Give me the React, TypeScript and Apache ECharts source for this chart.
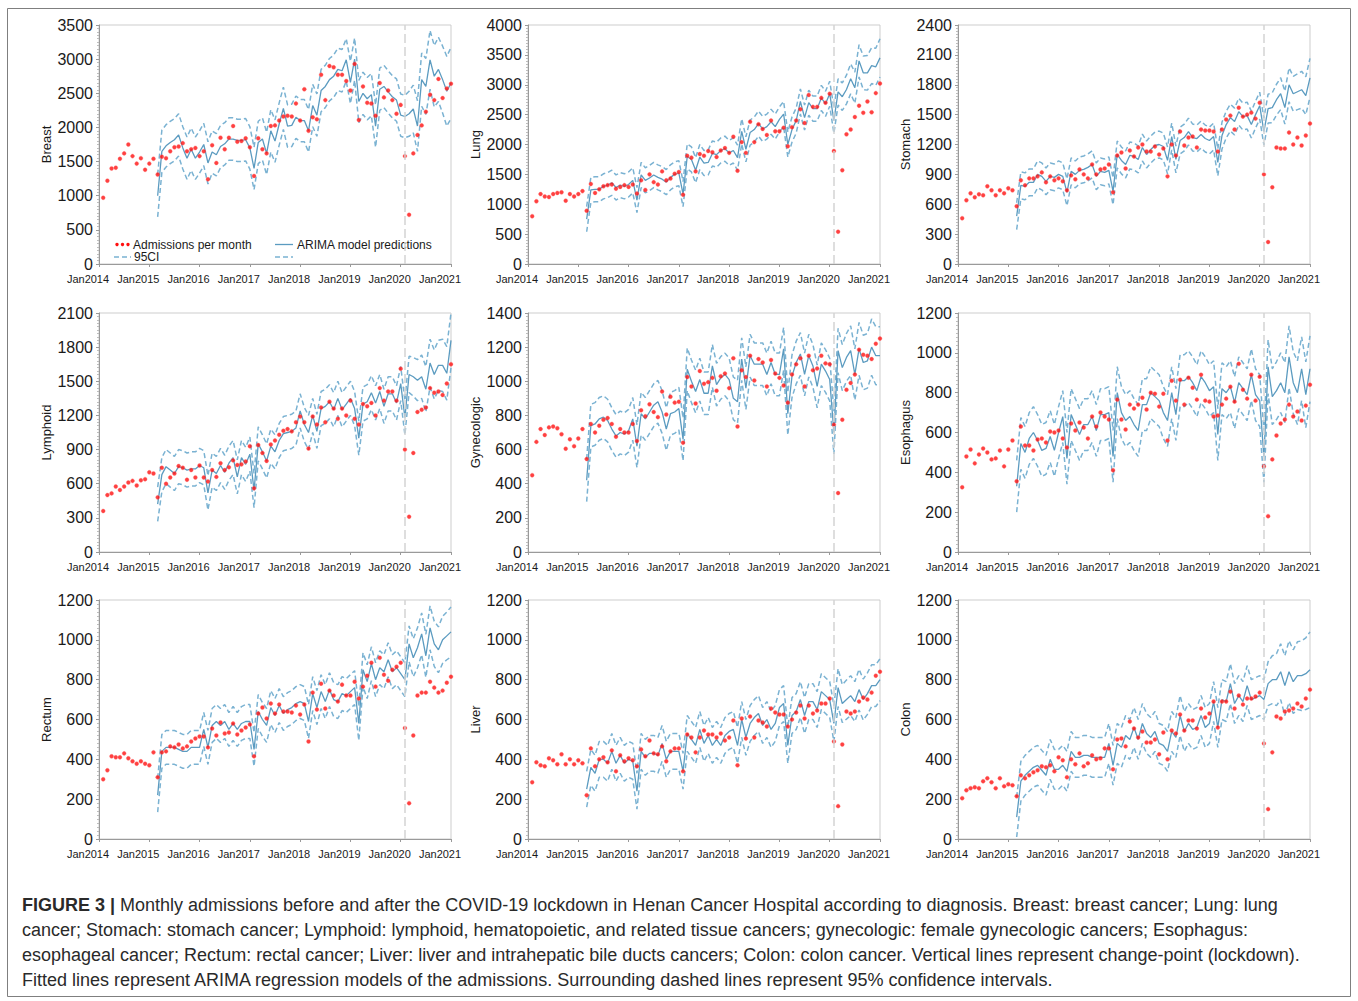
import React, { useEffect, useRef } from 'react';
import * as echarts from 'echarts';

// Months are counted from Jan2014 (=0). Admissions: Feb2014 (1) .. Jan2021 (84).
// Model predictions: Mar2015 (14) .. Jan2021 (84). Lockdown change-point: Feb2020 (73).
const ADM_START = 1;
const PRED_START = 14;
const LOCKDOWN = 73;
const xTickYears = [2014, 2015, 2016, 2017, 2018, 2019, 2020, 2021];

const breastAdm = [970,1220,1400,1410,1540,1620,1750,1580,1470,1550,1380,1470,1540,1310,1570,1550,1650,1710,1720,1770,1650,1680,1700,1580,1650,1240,1740,1480,1850,1680,1850,2020,1790,1800,1840,1710,1290,1840,1680,1620,2020,2030,2100,2160,2170,2160,2350,2100,2560,1950,2150,2120,2770,2400,2900,2880,2770,2770,2680,2540,2930,2110,2600,2360,2350,2170,2650,2440,2540,2400,2200,2330,1580,720,1620,1890,2030,2230,2480,2400,2710,2430,2570,2640];
const breastPred = [1000,1650,1730,1780,1820,1890,1700,1550,1680,1550,1640,1750,1480,1640,1600,1720,1760,1830,1830,1810,1810,1820,1700,1400,1780,1830,1620,1950,1800,2050,2280,2020,2030,2150,2100,2100,1950,2320,2180,2540,2600,2700,2750,2850,2830,2990,2660,3000,2380,2500,2420,2480,2020,2560,2600,2520,2450,2400,2180,2160,2200,2270,2020,2700,2600,2990,2750,2850,2700,2530,2650];
const breastCiForecast = [330,350,370,390,410,430,450,470,490,510,520];

const lungAdm = [800,1050,1170,1130,1120,1170,1190,1200,1060,1170,1130,1170,1220,890,1340,1190,1250,1300,1320,1330,1260,1290,1320,1290,1330,1180,1400,1240,1500,1370,1330,1550,1400,1430,1510,1540,1160,1810,1780,1550,1840,1810,1890,1870,1790,1900,1940,1860,2130,1560,2040,1860,2380,2040,2340,2260,2160,2400,2220,2220,2280,1970,2290,2400,2590,2360,2830,2630,2630,2780,2700,2850,1890,540,1570,2170,2250,2460,2650,2530,2720,2540,2860,3020];
const lungPred = [750,1240,1250,1250,1300,1320,1360,1280,1320,1300,1330,1400,1070,1490,1400,1440,1490,1450,1420,1370,1450,1500,1520,1170,1800,1750,1570,1790,1690,1700,1850,1830,1900,1930,1860,1900,1780,2220,1920,2200,2250,2350,2260,2300,2380,2300,2420,2510,2000,2250,2400,2720,2450,2700,2600,2600,2780,2680,2850,2400,2880,2800,2920,3100,2950,3400,3200,3200,3320,3300,3450];
const lungCiForecast = [220,230,240,250,260,270,280,290,300,310,320];

const stomachAdm = [460,640,710,670,700,690,780,740,690,740,710,760,740,580,840,790,860,860,880,920,820,880,840,860,830,740,890,850,950,900,860,1000,900,950,960,1000,720,1090,1120,960,1140,1080,1170,1200,1130,1130,1180,1100,1160,880,1200,1090,1330,1190,1270,1280,1170,1350,1340,1340,1330,1130,1350,1450,1490,1350,1570,1480,1500,1520,1460,1620,900,220,770,1170,1160,1160,1320,1200,1270,1190,1290,1410];
const stomachPred = [480,790,780,820,820,900,880,830,880,870,900,880,720,930,900,940,950,970,1000,880,930,920,940,730,1100,1040,1000,1090,1080,1050,1170,1100,1150,1190,1200,1180,1040,1280,1050,1240,1270,1330,1270,1260,1300,1260,1240,1280,1020,1290,1400,1470,1430,1530,1480,1490,1400,1500,1590,1330,1560,1570,1650,1710,1570,1800,1710,1730,1750,1690,1870];
const stomachCiForecast = [145,150,155,160,165,170,175,180,185,190,195];

const lymphoidAdm = [360,500,515,575,545,575,610,625,585,630,640,700,690,480,740,600,655,690,755,740,635,720,655,760,655,620,720,660,780,720,745,805,765,770,795,930,560,940,870,800,945,980,1030,1065,1080,1060,1140,1190,1140,910,1190,1120,1270,1140,1320,1260,1170,1260,1200,1330,1170,1120,1300,1280,1310,1200,1440,1330,1410,1410,1330,1610,900,310,870,1230,1250,1270,1440,1400,1410,1380,1480,1650];
const lymphoidPred = [420,680,750,720,690,750,740,720,730,730,760,740,520,720,690,760,700,780,830,660,830,770,860,540,950,880,800,930,880,980,1040,1050,1060,1090,1240,1120,1050,1200,1060,1260,1280,1320,1250,1350,1250,1300,1350,1260,1000,1300,1320,1400,1310,1410,1280,1390,1390,1310,1480,1180,1560,1540,1510,1540,1430,1660,1560,1640,1640,1570,1860];
const lymphoidCiForecast = [160,170,180,190,200,210,215,220,230,235,240];

const gynecologicAdm = [450,645,720,685,730,735,725,690,605,660,620,665,720,545,750,700,740,775,785,750,675,720,700,700,750,650,830,795,865,820,790,940,805,910,875,880,640,1025,970,870,1060,985,995,1020,945,1030,1045,960,1135,735,1065,1025,1150,1005,1130,1110,970,1125,1045,1020,975,875,1040,1100,1135,970,1150,1065,1075,1150,1105,1100,745,345,775,950,990,1040,1185,1155,1150,1130,1220,1250];
const gynecologicPred = [420,740,750,780,790,770,720,680,700,690,710,780,620,810,780,820,860,880,820,720,810,820,840,660,1070,1000,940,1010,930,930,1090,980,1020,1040,1010,900,880,1130,960,1150,1100,1100,1100,1040,1110,1040,1040,1190,810,1030,1110,1160,1040,1150,1090,970,1100,1060,1010,700,1180,1080,1140,1180,1040,1190,1110,1120,1200,1150,1150];
const gynecologicCiForecast = [130,135,140,145,150,155,160,160,165,170,170];

const esophagusAdm = [325,480,515,445,490,520,500,465,470,510,430,515,560,355,630,535,535,510,565,570,550,605,600,610,570,525,645,610,650,625,570,680,630,700,680,665,410,765,665,615,740,720,740,775,715,800,795,730,795,560,860,760,865,740,875,825,765,890,760,755,680,685,740,770,830,755,945,815,770,890,760,880,430,180,465,585,645,665,740,680,705,660,735,840];
const esophagusPred = [330,545,500,570,600,560,510,520,580,510,600,680,470,690,640,590,640,640,680,610,690,690,700,480,800,700,660,680,640,610,740,740,800,780,760,700,660,800,690,860,860,880,850,810,880,850,810,830,590,820,800,830,750,850,820,790,890,790,760,480,930,780,810,850,800,980,850,800,920,790,920];
const esophagusCiForecast = [135,140,145,150,150,155,155,160,160,165,165];

const rectumAdm = [300,345,415,410,410,430,405,390,378,390,378,370,435,310,435,440,465,460,475,455,465,490,505,515,515,460,555,520,585,530,535,580,525,545,560,575,415,630,660,605,680,630,675,640,640,635,670,625,675,490,735,650,780,655,745,720,690,775,720,720,790,705,765,820,885,765,910,825,795,850,865,885,557,180,520,720,735,735,790,760,735,745,785,815];
const rectumPred = [220,440,460,460,460,450,440,440,460,460,460,550,460,570,590,570,590,550,580,550,580,590,590,450,640,600,570,660,620,670,630,650,660,680,690,680,590,730,660,740,690,750,700,690,730,720,740,760,580,850,790,880,800,860,840,900,840,860,830,800,980,910,960,1030,920,1060,980,950,1000,1020,1040];
const rectumCiForecast = [90,95,100,105,108,110,113,115,118,120,125];

const liverAdm = [285,385,370,365,405,395,375,425,375,400,375,395,380,220,455,365,400,410,385,445,340,420,390,405,395,365,450,415,495,430,425,465,390,440,455,455,340,525,510,435,510,545,525,525,510,530,495,510,595,370,605,505,615,510,595,585,565,655,635,625,625,565,600,635,670,605,670,630,645,680,680,705,490,165,475,640,630,640,690,710,700,735,820,840];
const liverPred = [250,360,330,400,400,380,440,380,420,380,400,390,240,440,410,430,430,420,480,400,440,440,440,340,530,500,470,550,480,520,470,500,470,520,540,550,470,600,510,580,610,630,570,600,550,580,660,680,470,620,640,700,620,690,690,650,740,720,700,580,760,680,700,720,690,750,700,730,770,770,800];
const liverCiForecast = [95,95,98,100,100,102,103,104,105,105,105];

const colonAdm = [205,245,255,260,255,290,305,285,255,305,265,275,270,215,320,305,320,335,345,365,360,370,340,410,395,310,400,375,430,365,380,420,400,405,455,455,350,500,505,465,590,555,510,540,485,485,500,425,535,400,545,530,625,545,595,595,555,655,610,630,690,560,690,690,740,655,720,675,705,705,715,735,480,150,435,615,605,640,645,655,680,665,705,750];
const colonPred = [110,290,320,340,360,370,345,320,400,350,350,370,340,440,410,410,420,420,410,410,410,410,480,370,480,460,520,500,560,500,580,530,510,540,480,470,440,540,510,620,540,580,550,560,620,560,580,690,560,700,690,780,680,720,690,770,700,710,720,700,780,800,800,840,770,840,790,820,820,830,850];
const colonCiForecast = [110,120,130,140,150,155,160,170,175,180,190];

const panelNames = ['Breast', 'Lung', 'Stomach', 'Lymphoid', 'Gynecologic', 'Esophagus', 'Rectum', 'Liver', 'Colon'];
const panelAdm = [breastAdm, lungAdm, stomachAdm, lymphoidAdm, gynecologicAdm, esophagusAdm, rectumAdm, liverAdm, colonAdm];
const panelPred = [breastPred, lungPred, stomachPred, lymphoidPred, gynecologicPred, esophagusPred, rectumPred, liverPred, colonPred];
const panelCiFit = [310, 210, 135, 150, 125, 130, 85, 90, 100];
const panelCiForecast = [breastCiForecast, lungCiForecast, stomachCiForecast, lymphoidCiForecast, gynecologicCiForecast, esophagusCiForecast, rectumCiForecast, liverCiForecast, colonCiForecast];
const panelYMax = [3500, 4000, 2400, 2100, 1400, 1200, 1200, 1200, 1200];
const panelYStep = [500, 500, 300, 300, 200, 200, 200, 200, 200];

const captionLines = [
  'Monthly admissions before and after the COVID-19 lockdown in Henan Cancer Hospital according to diagnosis. Breast: breast cancer; Lung: lung',
  'cancer; Stomach: stomach cancer; Lymphoid: lymphoid, hematopoietic, and related tissue cancers; gynecologic: female gynecologic cancers; Esophagus:',
  'esophageal cancer; Rectum: rectal cancer; Liver: liver and intrahepatic bile ducts cancers; Colon: colon cancer. Vertical lines represent change-point (lockdown).',
  'Fitted lines represent ARIMA regression models of the admissions. Surrounding dashed lines represent 95% confidence intervals.',
];

const FONT = '"Liberation Sans", Arial, Helvetica, sans-serif';
const RED = '#ff1010';
const PRED_BLUE = '#5b9bc0';
const CI_BLUE = '#7ab2d2';
const TEXT = '#1a1a1a';

const colLeft = [99, 528, 958];
const rowTop = [25, 313, 600];
const PW = 352;
const PH = 239;

function buildOption() {
  const grid: any[] = [];
  const xAxis: any[] = [];
  const yAxis: any[] = [];
  const series: any[] = [];

  panelNames.forEach((name, i) => {
    const col = i % 3;
    const row = Math.floor(i / 3);
    grid.push({
      left: colLeft[col], top: rowTop[row], width: PW, height: PH,
      show: true, borderColor: '#cdcdcd', borderWidth: 1, backgroundColor: 'transparent',
    });
    xAxis.push({
      type: 'value', gridIndex: i, min: 0, max: 84, interval: 12,
      axisLine: { show: true, onZero: false, lineStyle: { color: '#9a9a9a', width: 1 } },
      axisTick: { show: true, length: 3, lineStyle: { color: '#9a9a9a' } },
      splitLine: { show: false },
      axisLabel: {
        formatter: (v: number) => 'Jan' + xTickYears[Math.round(v / 12)],
        fontSize: 11, color: TEXT, fontFamily: FONT, margin: 9, padding: [0, 22, 0, 0],
      },
    });
    yAxis.push({
      type: 'value', gridIndex: i, min: 0, max: panelYMax[i], interval: panelYStep[i],
      name, nameLocation: 'middle', nameGap: 46,
      nameTextStyle: { fontSize: 13, color: TEXT, fontFamily: FONT },
      axisLine: { show: true, lineStyle: { color: '#9a9a9a', width: 1 } },
      axisTick: { show: true, length: 3, lineStyle: { color: '#9a9a9a' } },
      minorTick: { show: true, splitNumber: 10, length: 2, lineStyle: { color: '#bdbdbd' } },
      splitLine: { show: false },
      axisLabel: { fontSize: 16, color: TEXT, fontFamily: FONT, margin: 6, formatter: (v: number) => String(v) },
    });

    const adm = panelAdm[i];
    const pred = panelPred[i];
    const ciAt = (m: number) => (m <= LOCKDOWN ? panelCiFit[i] : panelCiForecast[i][m - LOCKDOWN - 1]);
    const first = i === 0;

    series.push({
      type: 'line', name: first ? 'ARIMA model predictions' : name + ' predictions',
      xAxisIndex: i, yAxisIndex: i, z: 3,
      data: pred.map((v, k) => [PRED_START + k, v]),
      showSymbol: false, symbol: 'none',
      lineStyle: { color: PRED_BLUE, width: 1.3 },
      markLine: {
        silent: true, symbol: ['none', 'none'], label: { show: false },
        lineStyle: { color: '#d3d3d3', type: [9, 4], width: 1.5 },
        data: [{ xAxis: LOCKDOWN }],
      },
    });
    series.push({
      type: 'line', name: first ? '95CI' : name + ' 95CI lower',
      xAxisIndex: i, yAxisIndex: i, z: 2,
      data: pred.map((v, k) => [PRED_START + k, v - ciAt(PRED_START + k)]),
      showSymbol: false, symbol: 'none',
      lineStyle: { color: CI_BLUE, width: 1.5, type: [5, 3] },
    });
    series.push({
      type: 'line', name: first ? '95CI upper' : name + ' 95CI upper',
      xAxisIndex: i, yAxisIndex: i, z: 2,
      data: pred.map((v, k) => [PRED_START + k, v + ciAt(PRED_START + k)]),
      showSymbol: false, symbol: 'none',
      lineStyle: { color: CI_BLUE, width: 1.5, type: [5, 3] },
    });
    series.push({
      type: 'scatter', name: first ? 'Admissions per month' : name + ' admissions',
      xAxisIndex: i, yAxisIndex: i, z: 4,
      data: adm.map((v, k) => [ADM_START + k, v]),
      symbol: 'circle', symbolSize: 4,
      itemStyle: { color: RED, borderColor: 'rgba(255,110,110,0.55)', borderWidth: 0.8 },
    });
  });

  const legendFont = { fontSize: 12, fill: TEXT, fontFamily: FONT, verticalAlign: 'middle' as const };
  const row1 = 244.5;
  const row2 = 257;
  const graphic: any[] = [
    { type: 'rect', silent: true, shape: { x: 7.5, y: 8.5, width: 1343, height: 988 }, style: { fill: 'none', stroke: '#7f7f7f', lineWidth: 1 } },
    // legend (Breast panel)
    { type: 'circle', shape: { cx: 117, cy: row1, r: 1.7 }, style: { fill: RED } },
    { type: 'circle', shape: { cx: 122.5, cy: row1, r: 1.7 }, style: { fill: RED } },
    { type: 'circle', shape: { cx: 128, cy: row1, r: 1.7 }, style: { fill: RED } },
    { type: 'text', x: 133, y: row1, style: { text: 'Admissions per month', ...legendFont } },
    { type: 'line', shape: { x1: 275, y1: row1, x2: 293, y2: row1 }, style: { stroke: PRED_BLUE, lineWidth: 1.3 } },
    { type: 'text', x: 297, y: row1, style: { text: 'ARIMA model predictions', ...legendFont } },
    { type: 'line', shape: { x1: 114, y1: row2, x2: 131, y2: row2 }, style: { stroke: CI_BLUE, lineWidth: 1.5, lineDash: [5, 3] } },
    { type: 'text', x: 134, y: row2, style: { text: '95CI', ...legendFont } },
    { type: 'line', shape: { x1: 275, y1: row2, x2: 293, y2: row2 }, style: { stroke: CI_BLUE, lineWidth: 1.5, lineDash: [5, 3] } },
  ];
  captionLines.forEach((line, j) => {
    graphic.push({
      type: 'text', x: 22, y: 905 + j * 25,
      style: {
        text: j === 0 ? '{b|FIGURE 3 |} ' + line : line,
        fontSize: 18, fill: '#2a2a2a', fontFamily: FONT, verticalAlign: 'middle',
        rich: { b: { fontWeight: 'bold', fontSize: 18, fill: '#2a2a2a', fontFamily: FONT } },
      },
    });
  });

  return {
    animation: false,
    backgroundColor: '#ffffff',
    textStyle: { fontFamily: FONT },
    grid, xAxis, yAxis, series, graphic,
  };
}

export default function App() {
  const ref = useRef<HTMLDivElement>(null);
  useEffect(() => {
    if (!ref.current) return;
    const chart = echarts.init(ref.current, null, { renderer: 'svg' });
    chart.setOption(buildOption() as any);
    return () => chart.dispose();
  }, []);
  return (
    <div
      ref={ref}
      style={{ position: 'absolute', left: 0, top: 0, width: 1358, height: 1001, background: '#fff' }}
    />
  );
}
